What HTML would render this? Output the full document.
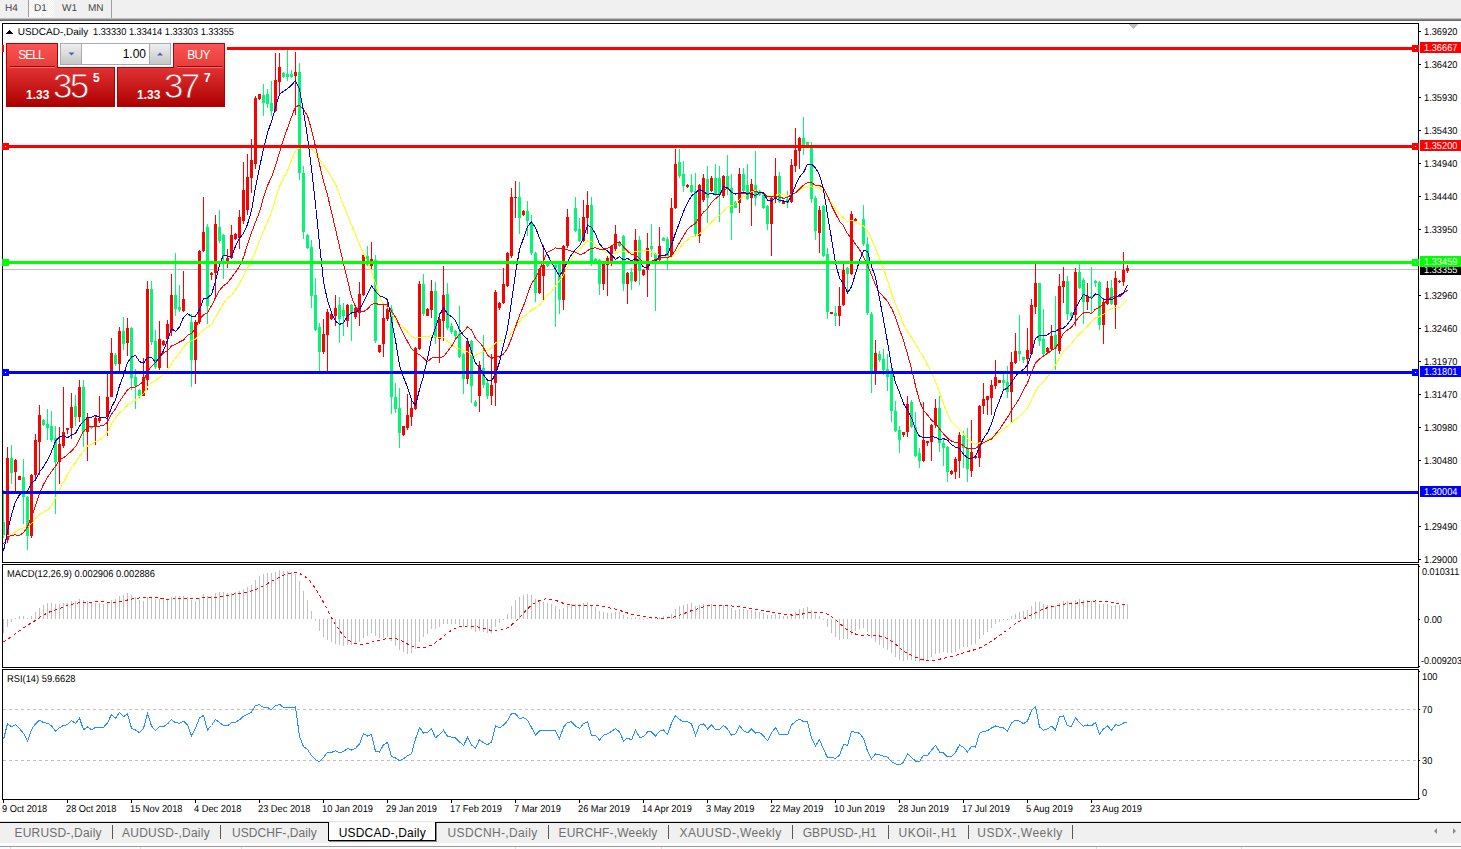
<!DOCTYPE html>
<html><head><meta charset="utf-8"><title>USDCAD-,Daily</title>
<style>
html,body{margin:0;padding:0;background:#fff;}
body{width:1461px;height:849px;position:relative;overflow:hidden;font-family:"Liberation Sans",sans-serif;}
.t{font-family:"Liberation Sans",sans-serif;font-size:10px;text-rendering:geometricPrecision;}
#chart{position:absolute;left:0;top:0;}
#top{position:absolute;left:0;top:0;width:1461px;height:18px;background:#f0f0f0;}
#top .l1{position:absolute;left:0;top:18px;width:100%;height:1px;background:#bdbdbd}
#top .l2{position:absolute;left:0;top:19px;width:100%;height:1px;background:#858585}
#top .l3{position:absolute;left:0;top:20px;width:100%;height:1px;background:#696969}
#top span{position:absolute;top:3px;font-size:10px;line-height:12px;color:#444;text-rendering:geometricPrecision;}
#top .sep{position:absolute;top:0;width:1px;height:17px;background:#a0a0a0}
#top .sel{position:absolute;left:29px;top:0;width:25px;height:17px;background-color:#f0f0f0;background-image:conic-gradient(#fff 25%,#f0f0f0 0 50%,#fff 0 75%,#f0f0f0 0);background-size:2px 2px}
#tp{position:absolute;left:4px;top:40px;width:223px;height:69px;background:#fff;}
.rb{position:absolute;box-sizing:border-box;border:1px solid #b20000;}
.btn{background:linear-gradient(#fb5353,#e53b3b);color:#fff;font-size:12px;text-align:center;line-height:23px;box-sizing:border-box}
.big{background:linear-gradient(#e03232,#ae0000);color:#fff;}
.big span{position:absolute;color:#fff;}
#tabs{position:absolute;left:0;top:820px;width:1461px;height:29px;background:#f0f0f0;}
#tabs span{position:absolute;top:6px;font-size:12px;line-height:14px;color:#6e6e6e;white-space:nowrap}
#tabs i{position:absolute;top:5px;width:1px;height:14px;background:#555;}
</style></head><body>
<svg id="chart" width="1461" height="849" viewBox="0 0 1461 849" shape-rendering="crispEdges">
<defs><clipPath id="cm"><rect x="3" y="24" width="1415" height="538"/></clipPath></defs>
<rect x="3" y="269" width="1415" height="1" fill="#c0c0c0"/>
<path d="M3 490h1v48h-1zM3 522h2v14h-2zM11 445h1v39h-1zM10 458h3v15h-3zM23 459h1v65h-1zM22 477h3v20h-3zM27 496h1v54h-1zM26 497h3v39h-3zM43 419h1v7h-1zM42 420h3v5h-3zM47 409h1v31h-1zM46 424h3v4h-3zM51 411h1v31h-1zM50 426h3v14h-3zM55 426h1v88h-1zM54 438h3v24h-3zM75 395h1v31h-1zM74 406h3v11h-3zM83 380h1v67h-1zM82 387h3v45h-3zM91 426h1v3h-1zM90 426h3v2h-3zM115 353h1v13h-1zM114 355h3v9h-3zM123 317h1v33h-1zM122 331h3v13h-3zM131 327h1v63h-1zM130 328h3v50h-3zM135 369h1v40h-1zM134 377h3v9h-3zM139 389h1v9h-1zM138 390h3v6h-3zM151 281h1v64h-1zM150 289h3v53h-3zM155 330h1v39h-1zM154 341h3v26h-3zM175 253h1v63h-1zM174 295h3v14h-3zM179 285h1v27h-1zM178 307h3v3h-3zM191 314h1v73h-1zM190 322h3v38h-3zM207 224h1v100h-1zM206 227h3v79h-3zM219 210h1v33h-1zM218 227h3v14h-3zM223 234h1v45h-1zM222 235h3v21h-3zM263 84h1v32h-1zM262 95h3v8h-3zM267 89h1v19h-1zM266 94h3v10h-3zM271 81h1v35h-1zM270 103h3v8h-3zM283 72h1v6h-1zM282 73h3v4h-3zM287 50h1v31h-1zM286 74h3v3h-3zM291 70h1v8h-1zM290 74h3v3h-3zM299 63h1v117h-1zM298 72h3v101h-3zM303 166h1v73h-1zM302 173h3v59h-3zM307 234h1v15h-1zM306 235h3v13h-3zM311 240h1v68h-1zM310 247h3v49h-3zM315 278h1v53h-1zM314 295h3v35h-3zM319 323h1v48h-1zM318 327h3v25h-3zM339 297h1v46h-1zM338 305h3v14h-3zM343 303h1v33h-1zM342 310h3v6h-3zM351 304h1v37h-1zM350 305h3v8h-3zM367 246h1v20h-1zM366 256h3v9h-3zM375 255h1v88h-1zM374 260h3v81h-3zM391 305h1v109h-1zM390 309h3v88h-3zM395 383h1v30h-1zM394 397h3v12h-3zM399 388h1v60h-1zM398 408h3v25h-3zM423 274h1v42h-1zM422 284h3v30h-3zM435 282h1v62h-1zM434 291h3v47h-3zM447 283h1v47h-1zM446 294h3v34h-3zM451 323h1v11h-1zM450 326h3v6h-3zM455 330h1v9h-1zM454 331h3v5h-3zM459 306h1v52h-1zM458 334h3v23h-3zM463 353h1v41h-1zM462 354h3v25h-3zM471 340h1v63h-1zM470 341h3v45h-3zM475 400h1v7h-1zM474 402h3v4h-3zM483 335h1v53h-1zM482 368h3v17h-3zM487 379h1v20h-1zM486 383h3v13h-3zM519 182h1v52h-1zM518 197h3v21h-3zM527 201h1v35h-1zM526 211h3v10h-3zM531 215h1v40h-1zM530 222h3v31h-3zM535 252h1v50h-1zM534 253h3v40h-3zM547 262h1v5h-1zM546 263h3v3h-3zM555 264h1v63h-1zM554 265h3v3h-3zM559 262h1v52h-1zM558 263h3v37h-3zM575 197h1v35h-1zM574 208h3v23h-3zM579 218h1v24h-1zM578 229h3v12h-3zM591 197h1v69h-1zM590 205h3v58h-3zM595 258h1v5h-1zM594 259h3v3h-3zM599 259h1v36h-1zM598 260h3v24h-3zM619 242h1v5h-1zM618 243h3v3h-3zM623 235h1v56h-1zM622 236h3v48h-3zM631 268h1v22h-1zM630 272h3v9h-3zM639 236h1v49h-1zM638 240h3v31h-3zM651 224h1v33h-1zM650 246h3v3h-3zM655 253h1v58h-1zM654 254h3v10h-3zM663 237h1v4h-1zM662 238h3v3h-3zM667 237h1v33h-1zM666 239h3v18h-3zM679 149h1v29h-1zM678 162h3v14h-3zM683 161h1v31h-1zM682 174h3v12h-3zM691 174h1v19h-1zM690 185h3v7h-3zM695 173h1v63h-1zM694 191h3v43h-3zM707 166h1v57h-1zM706 179h3v19h-3zM715 164h1v32h-1zM714 178h3v17h-3zM719 166h1v56h-1zM718 178h3v17h-3zM727 155h1v40h-1zM726 176h3v13h-3zM731 174h1v66h-1zM730 188h3v25h-3zM735 201h1v7h-1zM734 202h3v6h-3zM743 168h1v24h-1zM742 174h3v17h-3zM747 164h1v36h-1zM746 185h3v14h-3zM755 151h1v55h-1zM754 185h3v13h-3zM759 190h1v6h-1zM758 191h3v4h-3zM763 193h1v16h-1zM762 195h3v13h-3zM767 205h1v25h-1zM766 206h3v18h-3zM779 172h1v31h-1zM778 176h3v26h-3zM787 191h1v17h-1zM786 199h3v4h-3zM803 117h1v38h-1zM802 138h3v7h-3zM807 142h1v4h-1zM806 142h3v3h-3zM811 142h1v61h-1zM810 147h3v52h-3zM815 196h1v44h-1zM814 198h3v33h-3zM823 205h1v52h-1zM822 206h3v50h-3zM827 248h1v71h-1zM826 254h3v58h-3zM835 306h1v20h-1zM834 313h3v3h-3zM847 267h1v25h-1zM846 268h3v6h-3zM863 205h1v41h-1zM862 219h3v25h-3zM867 237h1v78h-1zM866 244h3v69h-3zM871 312h1v81h-1zM870 314h3v59h-3zM879 351h1v11h-1zM878 354h3v6h-3zM883 349h1v26h-1zM882 359h3v11h-3zM887 354h1v37h-1zM886 369h3v8h-3zM891 368h1v54h-1zM890 374h3v37h-3zM895 401h1v31h-1zM894 411h3v20h-3zM899 426h1v27h-1zM898 430h3v10h-3zM911 400h1v28h-1zM910 402h3v25h-3zM915 412h1v45h-1zM914 427h3v29h-3zM919 448h1v20h-1zM918 453h3v8h-3zM939 396h1v56h-1zM938 408h3v35h-3zM943 438h1v28h-1zM942 443h3v5h-3zM947 446h1v36h-1zM946 447h3v25h-3zM963 431h1v37h-1zM962 436h3v12h-3zM967 428h1v54h-1zM966 448h3v21h-3zM1003 374h1v16h-1zM1002 380h3v3h-3zM1007 366h1v32h-1zM1006 382h3v10h-3zM1019 315h1v46h-1zM1018 351h3v3h-3zM1023 357h1v6h-1zM1022 357h3v3h-3zM1039 283h1v63h-1zM1038 283h3v58h-3zM1043 309h1v47h-1zM1042 339h3v15h-3zM1055 296h1v74h-1zM1054 335h3v14h-3zM1067 276h1v44h-1zM1066 281h3v33h-3zM1071 312h1v5h-1zM1070 313h3v3h-3zM1079 263h1v26h-1zM1078 272h3v16h-3zM1083 278h1v46h-1zM1082 280h3v22h-3zM1091 267h1v47h-1zM1090 296h3v2h-3zM1095 280h1v7h-1zM1094 281h3v2h-3zM1099 281h1v49h-1zM1098 282h3v43h-3zM1111 280h1v25h-1zM1110 288h3v16h-3z" fill="#00f873"/>
<path d="M7 447h1v96h-1zM6 458h3v82h-3zM15 459h1v33h-1zM14 460h3v12h-3zM19 476h1v4h-1zM18 476h3v4h-3zM31 474h1v64h-1zM30 475h3v61h-3zM35 434h1v45h-1zM34 440h3v35h-3zM39 405h1v70h-1zM38 415h3v27h-3zM59 427h1v57h-1zM58 444h3v18h-3zM63 387h1v61h-1zM62 432h3v14h-3zM67 428h1v6h-1zM66 428h3v2h-3zM71 393h1v46h-1zM70 407h3v21h-3zM79 380h1v42h-1zM78 387h3v30h-3zM87 413h1v48h-1zM86 417h3v15h-3zM95 416h1v29h-1zM94 418h3v8h-3zM99 396h1v27h-1zM98 418h3v3h-3zM107 373h1v63h-1zM106 397h3v20h-3zM111 338h1v59h-1zM110 353h3v44h-3zM119 327h1v44h-1zM118 331h3v33h-3zM127 318h1v38h-1zM126 328h3v15h-3zM143 358h1v38h-1zM142 377h3v19h-3zM147 281h1v109h-1zM146 289h3v91h-3zM159 321h1v49h-1zM158 339h3v29h-3zM163 340h1v6h-1zM162 341h3v4h-3zM167 320h1v48h-1zM166 324h3v15h-3zM171 274h1v62h-1zM170 295h3v36h-3zM183 271h1v41h-1zM182 299h3v12h-3zM195 320h1v64h-1zM194 322h3v38h-3zM199 250h1v74h-1zM198 251h3v71h-3zM203 197h1v55h-1zM202 232h3v19h-3zM211 272h1v8h-1zM210 273h3v2h-3zM215 215h1v82h-1zM214 224h3v49h-3zM227 249h1v19h-1zM226 258h3v3h-3zM231 225h1v34h-1zM230 235h3v23h-3zM235 233h1v7h-1zM234 234h3v5h-3zM239 210h1v39h-1zM238 217h3v21h-3zM243 162h1v62h-1zM242 190h3v31h-3zM247 154h1v61h-1zM246 177h3v33h-3zM251 139h1v54h-1zM250 160h3v18h-3zM255 96h1v73h-1zM254 98h3v66h-3zM259 94h1v6h-1zM258 94h3v5h-3zM275 53h1v59h-1zM274 80h3v31h-3zM279 53h1v43h-1zM278 67h3v15h-3zM295 52h1v63h-1zM294 72h3v4h-3zM323 319h1v35h-1zM322 334h3v18h-3zM327 309h1v62h-1zM326 312h3v23h-3zM331 313h1v7h-1zM330 314h3v5h-3zM335 295h1v31h-1zM334 308h3v8h-3zM347 304h1v23h-1zM346 305h3v16h-3zM355 305h1v14h-1zM354 308h3v9h-3zM359 282h1v44h-1zM358 294h3v19h-3zM363 255h1v41h-1zM362 255h3v40h-3zM371 242h1v27h-1zM370 259h3v7h-3zM379 345h1v8h-1zM378 345h3v7h-3zM383 304h1v53h-1zM382 318h3v26h-3zM387 301h1v20h-1zM386 309h3v10h-3zM403 426h1v10h-1zM402 426h3v9h-3zM407 394h1v36h-1zM406 415h3v13h-3zM411 400h1v26h-1zM410 408h3v9h-3zM415 347h1v63h-1zM414 348h3v61h-3zM419 281h1v69h-1zM418 284h3v65h-3zM427 308h1v8h-1zM426 309h3v7h-3zM431 280h1v38h-1zM430 291h3v19h-3zM439 313h1v50h-1zM438 319h3v20h-3zM443 266h1v75h-1zM442 295h3v26h-3zM467 340h1v44h-1zM466 341h3v38h-3zM479 361h1v51h-1zM478 365h3v31h-3zM491 354h1v51h-1zM490 385h3v11h-3zM495 290h1v116h-1zM494 292h3v91h-3zM499 302h1v8h-1zM498 303h3v5h-3zM503 268h1v36h-1zM502 284h3v19h-3zM507 252h1v35h-1zM506 253h3v33h-3zM511 188h1v70h-1zM510 197h3v59h-3zM515 181h1v37h-1zM514 197h3v1h-3zM523 210h1v6h-1zM522 211h3v4h-3zM539 268h1v26h-1zM538 269h3v24h-3zM543 245h1v55h-1zM542 265h3v11h-3zM563 245h1v65h-1zM562 246h3v54h-3zM567 209h1v39h-1zM566 217h3v29h-3zM583 200h1v42h-1zM582 217h3v24h-3zM587 191h1v43h-1zM586 205h3v13h-3zM603 262h1v28h-1zM602 263h3v21h-3zM607 256h1v40h-1zM606 258h3v7h-3zM611 245h1v21h-1zM610 246h3v16h-3zM615 225h1v26h-1zM614 234h3v15h-3zM627 272h1v32h-1zM626 273h3v11h-3zM635 229h1v53h-1zM634 240h3v41h-3zM643 269h1v7h-1zM642 270h3v5h-3zM647 233h1v64h-1zM646 248h3v22h-3zM659 227h1v34h-1zM658 246h3v14h-3zM671 198h1v60h-1zM670 208h3v49h-3zM675 149h1v60h-1zM674 164h3v44h-3zM687 184h1v4h-1zM686 185h3v2h-3zM699 184h1v59h-1zM698 185h3v51h-3zM703 174h1v28h-1zM702 178h3v22h-3zM711 176h1v16h-1zM710 178h3v13h-3zM723 175h1v23h-1zM722 176h3v20h-3zM739 168h1v45h-1zM738 174h3v29h-3zM751 179h1v47h-1zM750 184h3v14h-3zM771 196h1v60h-1zM770 198h3v26h-3zM775 158h1v45h-1zM774 176h3v23h-3zM783 200h1v4h-1zM782 201h3v3h-3zM791 159h1v44h-1zM790 165h3v37h-3zM795 128h1v44h-1zM794 150h3v16h-3zM799 137h1v32h-1zM798 138h3v13h-3zM819 206h1v47h-1zM818 210h3v23h-3zM831 312h1v2h-1zM830 312h3v2h-3zM839 287h1v39h-1zM838 306h3v10h-3zM843 264h1v42h-1zM842 270h3v35h-3zM851 211h1v64h-1zM850 214h3v60h-3zM855 218h1v4h-1zM854 219h3v2h-3zM875 340h1v45h-1zM874 353h3v19h-3zM903 432h1v5h-1zM902 432h3v3h-3zM907 396h1v41h-1zM906 404h3v28h-3zM923 402h1v60h-1zM922 440h3v21h-3zM927 441h1v5h-1zM926 441h3v2h-3zM931 424h1v37h-1zM930 425h3v17h-3zM935 399h1v29h-1zM934 408h3v17h-3zM951 470h1v5h-1zM950 471h3v3h-3zM955 457h1v22h-1zM954 459h3v13h-3zM959 432h1v46h-1zM958 435h3v26h-3zM971 420h1v57h-1zM970 452h3v19h-3zM975 455h1v4h-1zM974 456h3v2h-3zM979 405h1v62h-1zM978 406h3v52h-3zM983 383h1v31h-1zM982 399h3v7h-3zM987 396h1v19h-1zM986 396h3v4h-3zM991 380h1v35h-1zM990 385h3v13h-3zM995 360h1v29h-1zM994 377h3v9h-3zM999 380h1v3h-1zM998 380h3v3h-3zM1011 352h1v70h-1zM1010 362h3v30h-3zM1015 333h1v31h-1zM1014 351h3v12h-3zM1027 328h1v48h-1zM1026 350h3v9h-3zM1031 299h1v56h-1zM1030 305h3v49h-3zM1035 263h1v51h-1zM1034 283h3v24h-3zM1047 347h1v6h-1zM1046 348h3v4h-3zM1051 325h1v25h-1zM1050 336h3v13h-3zM1059 274h1v80h-1zM1058 286h3v65h-3zM1063 267h1v36h-1zM1062 281h3v6h-3zM1075 268h1v58h-1zM1074 272h3v43h-3zM1087 283h1v27h-1zM1086 296h3v6h-3zM1103 298h1v46h-1zM1102 302h3v23h-3zM1107 281h1v24h-1zM1106 288h3v16h-3zM1115 271h1v58h-1zM1114 278h3v27h-3zM1119 280h1v3h-1zM1118 281h3v1h-3zM1123 252h1v34h-1zM1122 270h3v12h-3zM1127 265h1v8h-1zM1126 268h3v3h-3z" fill="#ff0000"/>
<g clip-path="url(#cm)">
<polyline points="3.5,535.1 7.5,535.2 11.5,535.3 15.5,532.1 19.5,529.3 23.5,527.7 27.5,527.2 31.5,523.6 35.5,518.6 39.5,514.1 43.5,512.2 47.5,510.3 51.5,505.7 55.5,498.2 59.5,490.2 63.5,482.4 67.5,474.7 71.5,467.9 75.5,462.7 79.5,456.3 83.5,451.4 87.5,445.7 91.5,444.3 95.5,441.7 99.5,439.7 103.5,436.8 107.5,432.1 111.5,423.4 115.5,418.1 119.5,412.9 123.5,409.5 127.5,404.9 131.5,402.5 135.5,400.0 139.5,396.8 143.5,393.6 147.5,386.8 151.5,382.7 155.5,380.8 159.5,377.1 163.5,374.9 167.5,369.7 171.5,363.9 175.5,358.2 179.5,353.1 183.5,347.5 187.5,342.5 191.5,340.8 195.5,339.3 199.5,333.9 203.5,329.2 207.5,327.4 211.5,324.7 215.5,317.4 219.5,310.5 223.5,303.8 227.5,298.1 231.5,295.6 235.5,290.4 239.5,283.3 243.5,276.2 247.5,268.4 251.5,260.6 255.5,251.2 259.5,241.0 263.5,231.1 267.5,221.8 271.5,212.1 275.5,198.8 279.5,186.6 283.5,178.3 287.5,171.0 291.5,160.1 295.5,150.5 299.5,148.1 303.5,147.7 307.5,147.3 311.5,149.1 315.5,153.6 319.5,159.2 323.5,164.8 327.5,170.6 331.5,177.1 335.5,184.2 339.5,194.7 343.5,205.3 347.5,214.9 351.5,224.9 355.5,234.2 359.5,244.4 363.5,253.4 367.5,262.4 371.5,271.0 375.5,283.6 379.5,296.6 383.5,303.5 387.5,307.2 391.5,314.3 395.5,319.7 399.5,324.6 403.5,328.1 407.5,332.0 411.5,336.6 415.5,338.2 419.5,337.1 423.5,336.8 427.5,336.5 431.5,335.8 435.5,337.0 439.5,337.5 443.5,337.6 447.5,341.1 451.5,344.3 455.5,348.0 459.5,348.7 463.5,350.3 467.5,351.4 471.5,355.1 475.5,355.5 479.5,353.4 483.5,351.1 487.5,349.7 491.5,348.3 495.5,342.7 499.5,340.6 503.5,340.6 507.5,337.7 511.5,332.4 515.5,327.9 519.5,322.2 523.5,317.0 527.5,313.5 531.5,310.0 535.5,308.1 539.5,304.9 543.5,300.5 547.5,295.1 551.5,291.6 555.5,286.0 559.5,280.9 563.5,275.3 567.5,267.2 571.5,258.6 575.5,251.3 579.5,248.9 583.5,244.8 587.5,241.0 591.5,241.5 595.5,244.6 599.5,248.7 603.5,250.9 607.5,253.1 611.5,254.3 615.5,253.4 619.5,251.1 623.5,251.9 627.5,252.3 631.5,253.0 635.5,251.6 639.5,251.8 643.5,250.4 647.5,250.5 651.5,252.0 655.5,254.4 659.5,255.1 663.5,255.1 667.5,257.0 671.5,257.1 675.5,252.3 679.5,248.3 683.5,243.6 687.5,239.9 691.5,236.7 695.5,236.2 699.5,233.9 703.5,230.6 707.5,226.5 711.5,221.9 715.5,217.8 719.5,215.7 723.5,211.2 727.5,207.3 731.5,205.6 735.5,203.7 739.5,199.4 743.5,196.7 747.5,194.7 751.5,191.2 755.5,190.8 759.5,192.3 763.5,193.7 767.5,195.6 771.5,196.2 775.5,195.4 779.5,193.9 783.5,194.6 787.5,195.8 791.5,194.3 795.5,192.9 799.5,190.2 803.5,187.9 807.5,186.4 811.5,186.9 815.5,187.7 819.5,187.9 823.5,191.8 827.5,197.5 831.5,202.9 835.5,209.3 839.5,214.4 843.5,218.0 847.5,221.2 851.5,220.7 855.5,221.7 859.5,223.9 863.5,225.9 867.5,231.2 871.5,239.3 875.5,248.3 879.5,258.3 883.5,269.4 887.5,280.4 891.5,293.1 895.5,304.1 899.5,314.0 903.5,324.6 907.5,331.7 911.5,337.1 915.5,344.0 919.5,350.9 923.5,357.2 927.5,365.4 931.5,372.6 935.5,381.8 939.5,392.5 943.5,403.3 947.5,414.1 951.5,421.6 955.5,425.7 959.5,429.6 963.5,433.8 967.5,438.5 971.5,442.1 975.5,444.2 979.5,443.0 983.5,441.1 987.5,439.4 991.5,438.5 995.5,436.1 999.5,432.5 1003.5,428.8 1007.5,426.5 1011.5,422.8 1015.5,419.3 1019.5,416.7 1023.5,412.7 1027.5,408.0 1031.5,400.1 1035.5,391.2 1039.5,385.5 1043.5,381.7 1047.5,376.9 1051.5,370.6 1055.5,365.6 1059.5,357.5 1063.5,351.6 1067.5,347.5 1071.5,343.7 1075.5,338.3 1079.5,334.1 1083.5,330.3 1087.5,326.2 1091.5,321.7 1095.5,317.9 1099.5,316.7 1103.5,314.2 1107.5,310.8 1111.5,308.6 1115.5,307.3 1119.5,307.2 1123.5,303.8 1127.5,299.7" fill="none" stroke="#ffff00" stroke-width="1"/>
<polyline points="3.5,544.0 7.5,537.9 11.5,535.2 15.5,534.9 19.5,535.5 23.5,532.7 27.5,526.7 31.5,516.9 35.5,505.8 39.5,493.3 43.5,484.3 47.5,477.4 51.5,471.5 55.5,466.3 59.5,459.8 63.5,457.9 67.5,454.7 71.5,450.9 75.5,446.7 79.5,438.8 83.5,431.4 87.5,427.2 91.5,426.4 95.5,426.6 99.5,426.1 103.5,425.3 107.5,422.2 111.5,414.4 115.5,408.7 119.5,401.5 123.5,395.5 127.5,389.8 131.5,387.1 135.5,387.0 139.5,384.5 143.5,381.6 147.5,371.6 151.5,366.2 155.5,362.6 159.5,357.0 163.5,353.0 167.5,350.9 171.5,345.9 175.5,344.4 179.5,342.0 183.5,340.0 187.5,335.3 191.5,333.5 195.5,328.2 199.5,319.2 203.5,315.1 207.5,312.5 211.5,305.8 215.5,297.6 219.5,290.4 223.5,285.6 227.5,283.0 231.5,277.7 235.5,272.2 239.5,266.3 243.5,257.5 247.5,244.4 251.5,232.8 255.5,221.9 259.5,212.1 263.5,197.6 267.5,185.5 271.5,177.4 275.5,165.9 279.5,152.4 283.5,139.4 287.5,128.2 291.5,117.0 295.5,106.6 299.5,105.4 303.5,109.4 307.5,115.7 311.5,129.8 315.5,146.6 319.5,164.4 323.5,180.8 327.5,195.2 331.5,211.9 335.5,229.1 339.5,246.5 343.5,263.5 347.5,279.8 351.5,297.0 355.5,306.6 359.5,311.0 363.5,311.6 367.5,309.3 371.5,304.3 375.5,303.6 379.5,304.4 383.5,304.8 387.5,304.5 391.5,310.9 395.5,317.2 399.5,325.6 403.5,334.2 407.5,341.5 411.5,348.7 415.5,352.6 419.5,354.6 423.5,358.1 427.5,361.7 431.5,358.1 435.5,357.6 439.5,357.6 443.5,356.6 447.5,351.7 451.5,346.3 455.5,339.3 459.5,334.4 463.5,331.8 467.5,327.1 471.5,329.8 475.5,338.5 479.5,342.2 483.5,347.6 487.5,355.1 491.5,358.5 495.5,356.5 499.5,357.1 503.5,353.9 507.5,348.3 511.5,338.3 515.5,326.9 519.5,315.4 523.5,306.1 527.5,294.3 531.5,283.4 535.5,278.2 539.5,270.0 543.5,260.6 547.5,252.1 551.5,250.4 555.5,247.9 559.5,249.0 563.5,248.5 567.5,249.9 571.5,251.2 575.5,252.1 579.5,254.2 583.5,253.9 587.5,250.5 591.5,248.3 595.5,247.8 599.5,249.3 603.5,249.1 607.5,248.3 611.5,246.8 615.5,242.1 619.5,242.0 623.5,246.9 627.5,251.0 631.5,254.6 635.5,254.6 639.5,258.5 643.5,263.1 647.5,262.0 651.5,261.1 655.5,259.6 659.5,258.4 663.5,257.1 667.5,257.9 671.5,256.0 675.5,250.2 679.5,242.5 683.5,236.2 687.5,229.4 691.5,226.0 695.5,223.3 699.5,217.3 703.5,212.2 707.5,208.6 711.5,202.4 715.5,198.8 719.5,195.5 723.5,189.8 727.5,188.4 731.5,192.0 735.5,194.2 739.5,193.3 743.5,193.7 747.5,194.2 751.5,190.5 755.5,191.4 759.5,192.6 763.5,193.3 767.5,196.7 771.5,196.9 775.5,195.6 779.5,197.4 783.5,198.2 787.5,197.5 791.5,194.5 795.5,192.8 799.5,189.0 803.5,185.2 807.5,182.5 811.5,182.6 815.5,185.2 819.5,185.4 823.5,187.6 827.5,195.8 831.5,205.4 835.5,213.6 839.5,221.1 843.5,225.9 847.5,233.7 851.5,238.3 855.5,244.1 859.5,249.5 863.5,256.6 867.5,264.8 871.5,274.9 875.5,285.1 879.5,292.6 883.5,296.8 887.5,301.4 891.5,308.2 895.5,317.1 899.5,329.2 903.5,340.5 907.5,354.0 911.5,368.9 915.5,385.6 919.5,401.1 923.5,410.1 927.5,415.0 931.5,420.1 935.5,423.5 939.5,428.8 943.5,433.9 947.5,438.2 951.5,441.0 955.5,442.4 959.5,442.6 963.5,445.8 967.5,448.8 971.5,448.5 975.5,448.2 979.5,445.8 983.5,442.8 987.5,440.7 991.5,439.1 995.5,434.3 999.5,429.5 1003.5,423.1 1007.5,417.5 1011.5,410.6 1015.5,404.6 1019.5,397.9 1023.5,390.0 1027.5,382.8 1031.5,372.0 1035.5,363.2 1039.5,359.1 1043.5,356.1 1047.5,353.4 1051.5,350.5 1055.5,348.2 1059.5,341.3 1063.5,333.3 1067.5,329.9 1071.5,327.4 1075.5,321.5 1079.5,316.4 1083.5,313.0 1087.5,312.2 1091.5,313.3 1095.5,309.2 1099.5,307.1 1103.5,303.8 1107.5,300.4 1111.5,297.2 1115.5,296.7 1119.5,296.7 1123.5,293.5 1127.5,290.1" fill="none" stroke="#ff0000" stroke-width="1"/>
<polyline points="3.5,551.0 7.5,531.5 11.5,514.7 15.5,501.8 19.5,494.8 23.5,491.3 27.5,491.4 31.5,482.8 35.5,480.1 39.5,471.9 43.5,466.8 47.5,459.9 51.5,451.7 55.5,441.2 59.5,436.8 63.5,435.7 67.5,437.6 71.5,435.0 75.5,433.4 79.5,425.9 83.5,421.5 87.5,417.6 91.5,417.1 95.5,415.6 99.5,417.1 103.5,417.1 107.5,418.6 111.5,407.3 115.5,399.8 119.5,385.9 123.5,375.4 127.5,362.6 131.5,357.0 135.5,355.4 139.5,361.6 143.5,363.4 147.5,357.4 151.5,357.1 155.5,362.6 159.5,357.0 163.5,350.6 167.5,340.2 171.5,328.5 175.5,331.5 179.5,326.9 183.5,317.3 187.5,313.6 191.5,316.4 195.5,316.1 199.5,309.8 203.5,298.8 207.5,298.1 211.5,294.3 215.5,281.6 219.5,264.5 223.5,255.1 227.5,256.1 231.5,256.6 235.5,246.3 239.5,238.2 243.5,233.4 247.5,224.3 251.5,210.6 255.5,187.7 259.5,167.6 263.5,148.9 267.5,132.7 271.5,121.4 275.5,107.5 279.5,94.2 283.5,91.2 287.5,88.7 291.5,85.0 295.5,80.6 299.5,89.4 303.5,111.2 307.5,137.1 311.5,168.4 315.5,204.5 319.5,243.8 323.5,281.1 327.5,300.9 331.5,312.6 335.5,321.2 339.5,324.5 343.5,322.6 347.5,315.9 351.5,312.9 355.5,312.4 359.5,309.4 363.5,301.9 367.5,294.2 371.5,286.0 375.5,291.2 379.5,295.8 383.5,297.3 387.5,299.5 391.5,319.8 395.5,340.3 399.5,365.2 403.5,377.3 407.5,387.3 411.5,400.0 415.5,405.6 419.5,389.5 423.5,376.0 427.5,358.2 431.5,339.0 435.5,327.8 439.5,315.3 443.5,307.7 447.5,314.0 451.5,316.6 455.5,320.5 459.5,329.9 463.5,335.8 467.5,339.0 471.5,352.0 475.5,363.1 479.5,367.7 483.5,374.7 487.5,380.3 491.5,381.1 495.5,374.0 499.5,362.1 503.5,344.8 507.5,328.8 511.5,301.9 515.5,273.5 519.5,249.7 523.5,238.2 527.5,226.5 531.5,222.0 535.5,227.7 539.5,238.0 543.5,247.7 547.5,254.5 551.5,262.7 555.5,269.3 559.5,276.0 563.5,269.3 567.5,261.8 571.5,254.7 575.5,249.7 579.5,245.8 583.5,238.5 587.5,225.0 591.5,227.4 595.5,233.9 599.5,243.8 603.5,248.5 607.5,250.9 611.5,255.1 615.5,259.2 619.5,256.7 623.5,259.9 627.5,258.3 631.5,260.8 635.5,258.3 639.5,261.8 643.5,267.0 647.5,267.3 651.5,262.3 655.5,261.0 659.5,255.9 663.5,256.0 667.5,254.0 671.5,245.1 675.5,233.0 679.5,222.6 683.5,211.5 687.5,202.9 691.5,195.9 695.5,192.7 699.5,189.5 703.5,191.5 707.5,194.5 711.5,193.3 715.5,194.7 719.5,195.1 723.5,186.8 727.5,187.4 731.5,192.4 735.5,193.8 739.5,193.2 743.5,192.6 747.5,193.2 751.5,194.2 755.5,195.5 759.5,192.9 763.5,192.9 767.5,200.1 771.5,201.1 775.5,197.9 779.5,200.5 783.5,201.0 787.5,202.2 791.5,196.1 795.5,185.4 799.5,176.9 803.5,172.5 807.5,164.4 811.5,164.1 815.5,168.1 819.5,174.6 823.5,189.7 827.5,214.6 831.5,238.4 835.5,262.8 839.5,278.2 843.5,283.6 847.5,292.7 851.5,286.9 855.5,273.6 859.5,260.7 863.5,250.4 867.5,251.4 871.5,266.2 875.5,277.5 879.5,298.3 883.5,320.0 887.5,342.1 891.5,365.9 895.5,382.7 899.5,392.3 903.5,403.6 907.5,409.8 911.5,417.9 915.5,429.2 919.5,436.3 923.5,437.5 927.5,437.7 931.5,436.7 935.5,437.3 939.5,439.6 943.5,438.6 947.5,440.1 951.5,444.6 955.5,447.1 959.5,448.6 963.5,454.3 967.5,458.0 971.5,458.5 975.5,456.2 979.5,447.0 983.5,438.4 987.5,432.9 991.5,423.9 995.5,410.7 999.5,400.5 1003.5,390.0 1007.5,388.0 1011.5,382.8 1015.5,376.3 1019.5,371.8 1023.5,369.4 1027.5,365.1 1031.5,354.0 1035.5,338.5 1039.5,335.4 1043.5,335.8 1047.5,334.9 1051.5,331.6 1055.5,331.4 1059.5,328.6 1063.5,328.2 1067.5,324.3 1071.5,318.9 1075.5,308.1 1079.5,301.2 1083.5,294.5 1087.5,295.9 1091.5,298.4 1095.5,294.0 1099.5,295.3 1103.5,299.6 1107.5,299.6 1111.5,299.9 1115.5,297.4 1119.5,295.0 1123.5,293.0 1127.5,284.8" fill="none" stroke="#0000d0" stroke-width="1"/>
</g>
<rect x="1419" y="31" width="2" height="1" fill="#000"/>
<g transform="translate(1424,35) scale(0.925,1)"><text class="t">1.36920</text></g>
<rect x="1419" y="64" width="2" height="1" fill="#000"/>
<g transform="translate(1424,68) scale(0.925,1)"><text class="t">1.36420</text></g>
<rect x="1419" y="97" width="2" height="1" fill="#000"/>
<g transform="translate(1424,101) scale(0.925,1)"><text class="t">1.35930</text></g>
<rect x="1419" y="130" width="2" height="1" fill="#000"/>
<g transform="translate(1424,134) scale(0.925,1)"><text class="t">1.35430</text></g>
<rect x="1419" y="163" width="2" height="1" fill="#000"/>
<g transform="translate(1424,167) scale(0.925,1)"><text class="t">1.34940</text></g>
<rect x="1419" y="196" width="2" height="1" fill="#000"/>
<g transform="translate(1424,200) scale(0.925,1)"><text class="t">1.34440</text></g>
<rect x="1419" y="229" width="2" height="1" fill="#000"/>
<g transform="translate(1424,233) scale(0.925,1)"><text class="t">1.33950</text></g>
<rect x="1419" y="295" width="2" height="1" fill="#000"/>
<g transform="translate(1424,299) scale(0.925,1)"><text class="t">1.32960</text></g>
<rect x="1419" y="328" width="2" height="1" fill="#000"/>
<g transform="translate(1424,332) scale(0.925,1)"><text class="t">1.32460</text></g>
<rect x="1419" y="361" width="2" height="1" fill="#000"/>
<g transform="translate(1424,365) scale(0.925,1)"><text class="t">1.31970</text></g>
<rect x="1419" y="394" width="2" height="1" fill="#000"/>
<g transform="translate(1424,398) scale(0.925,1)"><text class="t">1.31470</text></g>
<rect x="1419" y="427" width="2" height="1" fill="#000"/>
<g transform="translate(1424,431) scale(0.925,1)"><text class="t">1.30980</text></g>
<rect x="1419" y="460" width="2" height="1" fill="#000"/>
<g transform="translate(1424,464) scale(0.925,1)"><text class="t">1.30480</text></g>
<rect x="1419" y="526" width="2" height="1" fill="#000"/>
<g transform="translate(1424,530) scale(0.925,1)"><text class="t">1.29490</text></g>
<rect x="1419" y="559" width="2" height="1" fill="#000"/>
<g transform="translate(1424,563) scale(0.925,1)"><text class="t">1.29000</text></g>
<rect x="2" y="23" width="1417" height="1" fill="#000"/>
<rect x="2" y="23" width="1" height="777" fill="#000"/>
<rect x="1418" y="23" width="1" height="777" fill="#000"/>
<rect x="2" y="562" width="1417" height="1" fill="#000"/>
<rect x="2" y="564" width="1417" height="1" fill="#000"/>
<rect x="2" y="667" width="1417" height="1" fill="#000"/>
<rect x="2" y="669" width="1417" height="1" fill="#000"/>
<rect x="2" y="799" width="1417" height="1" fill="#000"/>
<rect x="0" y="563" width="1461" height="1" fill="#fff"/>
<rect x="0" y="668" width="1461" height="1" fill="#fff"/>
<path d="M1129 24h9l-4.5 5z" fill="#c0c0c0"/>
<rect x="1420" y="263" width="41" height="12" fill="#000"/>
<g transform="translate(1424,273) scale(0.925,1)"><text class="t" fill="#fff">1.33355</text></g>
<rect x="3" y="47" width="1415" height="3" fill="#ff0000"/>
<rect x="2" y="45" width="7" height="7" fill="#ff0000"/>
<rect x="5" y="48" width="1" height="1" fill="#fff"/>
<rect x="1412" y="45" width="7" height="7" fill="#ff0000"/>
<rect x="1415" y="48" width="1" height="1" fill="#fff"/>
<rect x="1420" y="42" width="41" height="11" fill="#ff0000"/>
<g transform="translate(1424,51) scale(0.925,1)"><text class="t" fill="#fff">1.36667</text></g>
<rect x="3" y="145" width="1415" height="3" fill="#ff0000"/>
<rect x="2" y="143" width="7" height="7" fill="#ff0000"/>
<rect x="5" y="146" width="1" height="1" fill="#fff"/>
<rect x="1412" y="143" width="7" height="7" fill="#ff0000"/>
<rect x="1415" y="146" width="1" height="1" fill="#fff"/>
<rect x="1420" y="140" width="41" height="11" fill="#ff0000"/>
<g transform="translate(1424,149) scale(0.925,1)"><text class="t" fill="#fff">1.35200</text></g>
<rect x="3" y="261" width="1415" height="3" fill="#00ff00"/>
<rect x="2" y="259" width="7" height="7" fill="#00ff00"/>
<rect x="5" y="262" width="1" height="1" fill="#fff"/>
<rect x="1412" y="259" width="7" height="7" fill="#00ff00"/>
<rect x="1415" y="262" width="1" height="1" fill="#fff"/>
<rect x="1420" y="256" width="41" height="11" fill="#00ff00"/>
<g transform="translate(1424,265) scale(0.925,1)"><text class="t" fill="#fff">1.33459</text></g>
<rect x="3" y="371" width="1415" height="3" fill="#0000ff"/>
<rect x="2" y="369" width="7" height="7" fill="#0000ff"/>
<rect x="5" y="372" width="1" height="1" fill="#fff"/>
<rect x="1412" y="369" width="7" height="7" fill="#0000ff"/>
<rect x="1415" y="372" width="1" height="1" fill="#fff"/>
<rect x="1420" y="366" width="41" height="11" fill="#0000ff"/>
<g transform="translate(1424,375) scale(0.925,1)"><text class="t" fill="#fff">1.31801</text></g>
<rect x="3" y="491" width="1415" height="3" fill="#0000ff"/>
<rect x="1420" y="486" width="41" height="11" fill="#0000ff"/>
<g transform="translate(1424,495) scale(0.925,1)"><text class="t" fill="#fff">1.30004</text></g>
<path d="M3 619h1v14h-1zM7 619h1v8h-1zM11 619h1v3h-1zM15 618h1v1h-1zM19 616h1v3h-1zM23 616h1v3h-1zM27 618h1v1h-1zM31 616h1v3h-1zM35 612h1v7h-1zM39 608h1v11h-1zM43 605h1v14h-1zM47 603h1v16h-1zM51 603h1v16h-1zM55 604h1v15h-1zM59 604h1v15h-1zM63 603h1v16h-1zM67 603h1v16h-1zM71 601h1v18h-1zM75 601h1v18h-1zM79 599h1v20h-1zM83 600h1v19h-1zM87 601h1v18h-1zM91 602h1v17h-1zM95 603h1v16h-1zM99 603h1v16h-1zM103 604h1v15h-1zM107 603h1v16h-1zM111 600h1v19h-1zM115 599h1v20h-1zM119 596h1v23h-1zM123 595h1v24h-1zM127 593h1v26h-1zM131 595h1v24h-1zM135 597h1v22h-1zM139 600h1v19h-1zM143 601h1v18h-1zM147 597h1v22h-1zM151 597h1v22h-1zM155 599h1v20h-1zM159 599h1v20h-1zM163 599h1v20h-1zM167 599h1v20h-1zM171 597h1v22h-1zM175 596h1v23h-1zM179 596h1v23h-1zM183 596h1v23h-1zM187 597h1v22h-1zM191 600h1v19h-1zM195 601h1v18h-1zM199 598h1v21h-1zM203 594h1v25h-1zM207 596h1v23h-1zM211 596h1v23h-1zM215 593h1v26h-1zM219 592h1v27h-1zM223 592h1v27h-1zM227 593h1v26h-1zM231 593h1v26h-1zM235 592h1v27h-1zM239 591h1v28h-1zM243 589h1v30h-1zM247 587h1v32h-1zM251 585h1v34h-1zM255 580h1v39h-1zM259 576h1v43h-1zM263 574h1v45h-1zM267 573h1v46h-1zM271 573h1v46h-1zM275 572h1v47h-1zM279 570h1v49h-1zM283 571h1v48h-1zM287 571h1v48h-1zM291 572h1v47h-1zM295 574h1v45h-1zM299 581h1v38h-1zM303 591h1v28h-1zM307 600h1v19h-1zM311 611h1v8h-1zM315 619h1v2h-1zM319 619h1v12h-1zM323 619h1v18h-1zM327 619h1v21h-1zM331 619h1v23h-1zM335 619h1v25h-1zM339 619h1v26h-1zM343 619h1v27h-1zM347 619h1v26h-1zM351 619h1v26h-1zM355 619h1v25h-1zM359 619h1v23h-1zM363 619h1v19h-1zM367 619h1v17h-1zM371 619h1v14h-1zM375 619h1v17h-1zM379 619h1v19h-1zM383 619h1v19h-1zM387 619h1v18h-1zM391 619h1v22h-1zM395 619h1v27h-1zM399 619h1v31h-1zM403 619h1v33h-1zM407 619h1v35h-1zM411 619h1v34h-1zM415 619h1v30h-1zM419 619h1v23h-1zM423 619h1v18h-1zM427 619h1v15h-1zM431 619h1v10h-1zM435 619h1v10h-1zM439 619h1v8h-1zM443 619h1v5h-1zM447 619h1v5h-1zM451 619h1v5h-1zM455 619h1v5h-1zM459 619h1v6h-1zM463 619h1v8h-1zM467 619h1v8h-1zM471 619h1v10h-1zM475 619h1v13h-1zM479 619h1v12h-1zM483 619h1v13h-1zM487 619h1v14h-1zM491 619h1v14h-1zM495 619h1v8h-1zM499 619h1v4h-1zM503 619h1v1h-1zM507 614h1v5h-1zM511 606h1v13h-1zM515 600h1v19h-1zM519 597h1v22h-1zM523 595h1v24h-1zM527 594h1v25h-1zM531 595h1v24h-1zM535 599h1v20h-1zM539 601h1v18h-1zM543 602h1v17h-1zM547 603h1v16h-1zM551 604h1v15h-1zM555 606h1v13h-1zM559 609h1v10h-1zM563 608h1v11h-1zM567 606h1v13h-1zM571 604h1v15h-1zM575 604h1v15h-1zM579 604h1v15h-1zM583 603h1v16h-1zM587 602h1v17h-1zM591 605h1v14h-1zM595 607h1v12h-1zM599 611h1v8h-1zM603 612h1v7h-1zM607 613h1v6h-1zM611 613h1v6h-1zM615 612h1v7h-1zM619 612h1v7h-1zM623 615h1v4h-1zM627 617h1v2h-1zM631 618h1v1h-1zM635 617h1v2h-1zM639 618h1v1h-1zM643 619h1v1h-1zM647 618h1v1h-1zM651 617h1v2h-1zM655 618h1v1h-1zM659 617h1v2h-1zM663 616h1v3h-1zM667 617h1v2h-1zM671 614h1v5h-1zM675 609h1v10h-1zM679 606h1v13h-1zM683 605h1v14h-1zM687 604h1v15h-1zM691 603h1v16h-1zM695 606h1v13h-1zM699 605h1v14h-1zM703 604h1v15h-1zM707 605h1v14h-1zM711 604h1v15h-1zM715 605h1v14h-1zM719 606h1v13h-1zM723 605h1v14h-1zM727 606h1v13h-1zM731 608h1v11h-1zM735 610h1v9h-1zM739 609h1v10h-1zM743 609h1v10h-1zM747 610h1v9h-1zM751 610h1v9h-1zM755 611h1v8h-1zM759 612h1v7h-1zM763 613h1v6h-1zM767 615h1v4h-1zM771 615h1v4h-1zM775 614h1v5h-1zM779 615h1v4h-1zM783 616h1v3h-1zM787 616h1v3h-1zM791 614h1v5h-1zM795 612h1v7h-1zM799 609h1v10h-1zM803 608h1v11h-1zM807 607h1v12h-1zM811 610h1v9h-1zM815 614h1v5h-1zM819 616h1v3h-1zM823 619h1v1h-1zM827 619h1v8h-1zM831 619h1v14h-1zM835 619h1v18h-1zM839 619h1v21h-1zM843 619h1v20h-1zM847 619h1v20h-1zM851 619h1v16h-1zM855 619h1v12h-1zM859 619h1v10h-1zM863 619h1v9h-1zM867 619h1v13h-1zM871 619h1v19h-1zM875 619h1v23h-1zM879 619h1v26h-1zM883 619h1v29h-1zM887 619h1v31h-1zM891 619h1v34h-1zM895 619h1v38h-1zM899 619h1v41h-1zM903 619h1v42h-1zM907 619h1v41h-1zM911 619h1v41h-1zM915 619h1v42h-1zM919 619h1v43h-1zM923 619h1v42h-1zM927 619h1v41h-1zM931 619h1v38h-1zM935 619h1v35h-1zM939 619h1v34h-1zM943 619h1v33h-1zM947 619h1v34h-1zM951 619h1v34h-1zM955 619h1v33h-1zM959 619h1v30h-1zM963 619h1v28h-1zM967 619h1v28h-1zM971 619h1v26h-1zM975 619h1v25h-1zM979 619h1v20h-1zM983 619h1v16h-1zM987 619h1v13h-1zM991 619h1v9h-1zM995 619h1v5h-1zM999 619h1v3h-1zM1003 619h1v1h-1zM1007 619h1v1h-1zM1011 616h1v3h-1zM1015 614h1v5h-1zM1019 612h1v7h-1zM1023 611h1v8h-1zM1027 610h1v9h-1zM1031 606h1v13h-1zM1035 602h1v17h-1zM1039 602h1v17h-1zM1043 604h1v15h-1zM1047 605h1v14h-1zM1051 605h1v14h-1zM1055 606h1v13h-1zM1059 603h1v16h-1zM1063 601h1v18h-1zM1067 601h1v18h-1zM1071 602h1v17h-1zM1075 600h1v19h-1zM1079 599h1v20h-1zM1083 600h1v19h-1zM1087 600h1v19h-1zM1091 601h1v18h-1zM1095 601h1v18h-1zM1099 604h1v15h-1zM1103 604h1v15h-1zM1107 604h1v15h-1zM1111 606h1v13h-1zM1115 605h1v14h-1zM1119 605h1v14h-1zM1123 604h1v15h-1zM1127 604h1v15h-1z" fill="#c0c0c0"/>
<polyline points="3.5,641.9 7.5,639.5 11.5,636.7 15.5,633.7 19.5,630.7 23.5,627.7 27.5,625.3 31.5,622.8 35.5,620.3 39.5,617.5 43.5,615.1 47.5,612.9 51.5,611.2 55.5,609.8 59.5,608.5 63.5,606.9 67.5,605.4 71.5,604.2 75.5,603.5 79.5,602.8 83.5,602.5 87.5,602.3 91.5,602.1 95.5,601.9 99.5,601.9 103.5,602.0 107.5,602.3 111.5,602.2 115.5,602.2 119.5,601.7 123.5,601.0 127.5,600.0 131.5,599.1 135.5,598.4 139.5,598.0 143.5,597.8 147.5,597.4 151.5,597.2 155.5,597.6 159.5,598.1 163.5,598.8 167.5,599.2 171.5,599.2 175.5,598.7 179.5,598.2 183.5,598.1 187.5,598.0 191.5,598.2 195.5,598.5 199.5,598.3 203.5,597.7 207.5,597.6 211.5,597.6 215.5,597.2 219.5,596.7 223.5,596.2 227.5,595.4 231.5,594.4 235.5,593.8 239.5,593.5 243.5,592.8 247.5,591.9 251.5,591.0 255.5,589.7 259.5,587.9 263.5,585.8 267.5,583.6 271.5,581.4 275.5,579.2 279.5,577.1 283.5,575.3 287.5,573.8 291.5,572.9 295.5,572.7 299.5,573.5 303.5,575.5 307.5,578.6 311.5,582.9 315.5,588.6 319.5,595.2 323.5,602.5 327.5,610.0 331.5,617.6 335.5,624.6 339.5,630.5 343.5,635.6 347.5,639.4 351.5,642.1 355.5,643.6 359.5,644.2 363.5,644.0 367.5,643.3 371.5,642.1 375.5,641.0 379.5,640.2 383.5,639.4 387.5,638.5 391.5,638.2 395.5,638.5 399.5,639.8 403.5,641.7 407.5,644.0 411.5,645.9 415.5,647.2 419.5,647.6 423.5,647.7 427.5,646.8 431.5,645.0 435.5,642.6 439.5,639.8 443.5,636.5 447.5,633.2 451.5,630.3 455.5,628.3 459.5,626.9 463.5,626.2 467.5,626.0 471.5,626.0 475.5,626.6 479.5,627.4 483.5,628.4 487.5,629.5 491.5,630.5 495.5,630.8 499.5,630.4 503.5,629.5 507.5,627.8 511.5,624.9 515.5,621.5 519.5,617.6 523.5,613.3 527.5,608.8 531.5,605.2 535.5,602.5 539.5,600.5 543.5,599.1 547.5,598.8 551.5,599.3 555.5,600.2 559.5,601.8 563.5,603.4 567.5,604.6 571.5,605.2 575.5,605.5 579.5,605.8 583.5,605.8 587.5,605.5 591.5,605.5 595.5,605.3 599.5,605.6 603.5,606.3 607.5,607.3 611.5,608.3 615.5,609.2 619.5,610.3 623.5,611.7 627.5,613.0 631.5,614.2 635.5,614.9 639.5,615.6 643.5,616.2 647.5,616.8 651.5,617.3 655.5,617.9 659.5,618.2 663.5,618.1 667.5,617.9 671.5,617.6 675.5,616.6 679.5,615.2 683.5,613.8 687.5,612.2 691.5,610.6 695.5,609.4 699.5,608.2 703.5,606.8 707.5,605.8 711.5,605.2 715.5,605.1 719.5,605.2 723.5,605.4 727.5,605.7 731.5,606.0 735.5,606.5 739.5,607.0 743.5,607.5 747.5,608.1 751.5,608.7 755.5,609.3 759.5,610.0 763.5,610.8 767.5,611.6 771.5,612.2 775.5,612.9 779.5,613.5 783.5,614.1 787.5,614.7 791.5,615.0 795.5,615.0 799.5,614.6 803.5,613.8 807.5,612.9 811.5,612.4 815.5,612.2 819.5,612.3 823.5,612.8 827.5,614.3 831.5,616.6 835.5,619.7 839.5,623.2 843.5,626.8 847.5,630.0 851.5,632.3 855.5,634.0 859.5,635.0 863.5,635.1 867.5,635.0 871.5,635.1 875.5,635.4 879.5,636.0 883.5,637.0 887.5,638.7 891.5,641.1 895.5,644.2 899.5,647.7 903.5,650.9 907.5,653.3 911.5,655.3 915.5,657.1 919.5,658.7 923.5,660.0 927.5,660.7 931.5,660.8 935.5,660.1 939.5,659.2 943.5,658.4 947.5,657.6 951.5,656.6 955.5,655.5 959.5,654.1 963.5,652.7 967.5,651.5 971.5,650.5 975.5,649.5 979.5,648.0 983.5,646.0 987.5,643.7 991.5,641.1 995.5,638.4 999.5,635.6 1003.5,632.6 1007.5,629.7 1011.5,626.7 1015.5,623.8 1019.5,621.3 1023.5,619.0 1027.5,616.9 1031.5,614.9 1035.5,612.7 1039.5,610.7 1043.5,609.0 1047.5,607.7 1051.5,606.7 1055.5,606.0 1059.5,605.2 1063.5,604.2 1067.5,603.6 1071.5,603.6 1075.5,603.3 1079.5,602.7 1083.5,602.2 1087.5,601.7 1091.5,601.2 1095.5,601.0 1099.5,601.3 1103.5,601.7 1107.5,602.0 1111.5,602.7 1115.5,603.3 1119.5,603.9 1123.5,604.3 1127.5,604.6" fill="none" stroke="#ff0000" stroke-width="1" stroke-dasharray="3 3"/>
<rect x="1419" y="566" width="1" height="1" fill="#000"/>
<rect x="1419" y="619" width="1" height="1" fill="#000"/>
<rect x="1419" y="666" width="1" height="1" fill="#000"/>
<g transform="translate(1422,575) scale(0.91,1)"><text class="t" fill="#000">0.010311</text></g>
<g transform="translate(1424,623) scale(0.925,1)"><text class="t" fill="#000">0.00</text></g>
<g transform="translate(1421,664) scale(0.91,1)"><text class="t" fill="#000">-0.009203</text></g>
<g transform="translate(7,577) scale(0.934,1)"><text class="t" fill="#000">MACD(12,26,9) 0.002906 0.002886</text></g>
<path d="M3 709.5H1418" stroke="#c0c0c0" stroke-width="1" stroke-dasharray="3 3" fill="none"/>
<path d="M3 760.5H1418" stroke="#c0c0c0" stroke-width="1" stroke-dasharray="3 3" fill="none"/>
<polyline points="3.5,739.5 7.5,723.5 11.5,726.8 15.5,724.6 19.5,728.6 23.5,733.3 27.5,741.2 31.5,729.4 35.5,723.8 39.5,720.3 43.5,722.5 47.5,723.2 51.5,725.9 55.5,731.2 59.5,727.7 63.5,725.4 67.5,724.7 71.5,720.7 75.5,723.5 79.5,718.0 83.5,729.8 87.5,726.9 91.5,729.7 95.5,727.5 99.5,727.4 103.5,727.3 107.5,722.8 111.5,714.4 115.5,718.1 119.5,712.5 123.5,716.8 127.5,714.0 131.5,728.2 135.5,730.0 139.5,732.6 143.5,728.4 147.5,713.7 151.5,725.9 155.5,730.7 159.5,726.3 163.5,726.6 167.5,723.9 171.5,719.5 175.5,722.9 179.5,723.1 183.5,721.2 187.5,724.9 191.5,735.8 195.5,728.4 199.5,717.8 203.5,715.4 207.5,730.0 211.5,725.5 215.5,719.4 219.5,722.6 223.5,725.4 227.5,725.9 231.5,722.5 235.5,722.3 239.5,719.8 243.5,716.1 247.5,714.4 251.5,712.2 255.5,705.3 259.5,704.9 263.5,707.3 267.5,707.5 271.5,709.8 275.5,705.8 279.5,704.3 283.5,707.6 287.5,707.8 291.5,707.7 295.5,707.0 299.5,736.3 303.5,746.8 307.5,749.2 311.5,755.7 315.5,759.6 319.5,761.9 323.5,757.4 327.5,752.1 331.5,752.4 335.5,750.8 339.5,752.6 343.5,751.6 347.5,748.5 351.5,750.0 355.5,748.3 359.5,743.9 363.5,733.6 367.5,736.0 371.5,734.4 375.5,751.5 379.5,752.1 383.5,744.7 387.5,742.4 391.5,756.4 395.5,757.9 399.5,760.8 403.5,758.7 407.5,755.8 411.5,753.6 415.5,738.9 419.5,727.5 423.5,733.1 427.5,732.2 431.5,729.0 435.5,737.8 439.5,734.5 443.5,730.2 447.5,736.4 451.5,737.1 455.5,737.9 459.5,741.8 463.5,745.7 467.5,737.4 471.5,745.0 475.5,748.1 479.5,739.5 483.5,742.8 487.5,744.6 491.5,742.1 495.5,725.7 499.5,727.8 503.5,725.1 507.5,720.7 511.5,713.8 515.5,713.9 519.5,718.6 523.5,717.7 527.5,720.1 531.5,727.4 535.5,735.2 539.5,731.0 543.5,730.2 547.5,730.5 551.5,730.9 555.5,730.8 559.5,738.5 563.5,727.3 567.5,722.2 571.5,721.9 575.5,726.0 579.5,728.5 583.5,723.7 587.5,721.6 591.5,735.6 595.5,735.3 599.5,740.1 603.5,735.2 607.5,733.9 611.5,731.4 615.5,728.5 619.5,731.8 623.5,741.0 627.5,738.1 631.5,739.9 635.5,730.0 639.5,737.2 643.5,736.9 647.5,731.9 651.5,732.0 655.5,736.0 659.5,731.3 663.5,730.0 667.5,734.7 671.5,723.2 675.5,715.5 679.5,719.2 683.5,722.0 687.5,721.8 691.5,723.9 695.5,735.6 699.5,725.1 703.5,723.7 707.5,728.9 711.5,724.9 715.5,729.4 719.5,729.4 723.5,725.3 727.5,728.9 731.5,735.3 735.5,733.9 739.5,725.9 743.5,730.6 747.5,732.8 751.5,729.0 755.5,733.0 759.5,732.3 763.5,736.0 767.5,740.7 771.5,732.8 775.5,727.5 779.5,734.7 783.5,734.5 787.5,735.0 791.5,725.0 795.5,721.5 799.5,719.1 803.5,721.6 807.5,721.6 811.5,738.4 815.5,745.8 819.5,739.9 823.5,749.0 827.5,757.6 831.5,757.6 835.5,758.3 839.5,755.1 843.5,744.6 847.5,745.4 851.5,731.5 855.5,732.4 859.5,733.2 863.5,738.4 867.5,751.0 871.5,758.8 875.5,753.9 879.5,754.9 883.5,756.2 887.5,757.1 891.5,761.5 895.5,763.8 899.5,764.8 903.5,762.5 907.5,753.8 911.5,757.3 915.5,761.1 919.5,761.8 923.5,755.2 927.5,755.5 931.5,750.3 935.5,745.4 939.5,752.0 943.5,752.9 947.5,756.8 951.5,756.4 955.5,752.6 959.5,744.7 963.5,747.6 967.5,751.9 971.5,746.3 975.5,747.1 979.5,733.2 983.5,731.4 987.5,730.8 991.5,728.0 995.5,726.0 999.5,727.1 1003.5,728.0 1007.5,731.3 1011.5,722.9 1015.5,720.1 1019.5,721.2 1023.5,723.7 1027.5,720.9 1031.5,710.7 1035.5,706.7 1039.5,726.9 1043.5,730.3 1047.5,728.9 1051.5,726.2 1055.5,730.0 1059.5,716.8 1063.5,716.0 1067.5,725.8 1071.5,726.4 1075.5,717.9 1079.5,722.5 1083.5,726.3 1087.5,725.0 1091.5,725.7 1095.5,722.4 1099.5,734.4 1103.5,728.9 1107.5,726.0 1111.5,730.4 1115.5,724.7 1119.5,725.5 1123.5,723.0 1127.5,722.6" fill="none" stroke="#1e90ff" stroke-width="1"/>
<rect x="1419" y="671" width="1" height="1" fill="#000"/>
<rect x="1419" y="709" width="1" height="1" fill="#000"/>
<rect x="1419" y="760" width="1" height="1" fill="#000"/>
<rect x="1419" y="798" width="1" height="1" fill="#000"/>
<g transform="translate(1422,680) scale(0.925,1)"><text class="t" fill="#000">100</text></g>
<g transform="translate(1422,713) scale(0.925,1)"><text class="t" fill="#000">70</text></g>
<g transform="translate(1422,764) scale(0.925,1)"><text class="t" fill="#000">30</text></g>
<g transform="translate(1422,796) scale(0.925,1)"><text class="t" fill="#000">0</text></g>
<g transform="translate(7,682) scale(0.934,1)"><text class="t" fill="#000">RSI(14) 59.6628</text></g>
<rect x="3" y="800" width="1" height="3" fill="#000"/>
<g transform="translate(2,812) scale(0.925,1)"><text class="t" fill="#000">9 Oct 2018</text></g>
<rect x="67" y="800" width="1" height="3" fill="#000"/>
<g transform="translate(66,812) scale(0.925,1)"><text class="t" fill="#000">28 Oct 2018</text></g>
<rect x="131" y="800" width="1" height="3" fill="#000"/>
<g transform="translate(130,812) scale(0.925,1)"><text class="t" fill="#000">15 Nov 2018</text></g>
<rect x="195" y="800" width="1" height="3" fill="#000"/>
<g transform="translate(194,812) scale(0.925,1)"><text class="t" fill="#000">4 Dec 2018</text></g>
<rect x="259" y="800" width="1" height="3" fill="#000"/>
<g transform="translate(258,812) scale(0.925,1)"><text class="t" fill="#000">23 Dec 2018</text></g>
<rect x="323" y="800" width="1" height="3" fill="#000"/>
<g transform="translate(322,812) scale(0.925,1)"><text class="t" fill="#000">10 Jan 2019</text></g>
<rect x="387" y="800" width="1" height="3" fill="#000"/>
<g transform="translate(386,812) scale(0.925,1)"><text class="t" fill="#000">29 Jan 2019</text></g>
<rect x="451" y="800" width="1" height="3" fill="#000"/>
<g transform="translate(450,812) scale(0.925,1)"><text class="t" fill="#000">17 Feb 2019</text></g>
<rect x="515" y="800" width="1" height="3" fill="#000"/>
<g transform="translate(514,812) scale(0.925,1)"><text class="t" fill="#000">7 Mar 2019</text></g>
<rect x="579" y="800" width="1" height="3" fill="#000"/>
<g transform="translate(578,812) scale(0.925,1)"><text class="t" fill="#000">26 Mar 2019</text></g>
<rect x="643" y="800" width="1" height="3" fill="#000"/>
<g transform="translate(642,812) scale(0.925,1)"><text class="t" fill="#000">14 Apr 2019</text></g>
<rect x="707" y="800" width="1" height="3" fill="#000"/>
<g transform="translate(706,812) scale(0.925,1)"><text class="t" fill="#000">3 May 2019</text></g>
<rect x="771" y="800" width="1" height="3" fill="#000"/>
<g transform="translate(770,812) scale(0.925,1)"><text class="t" fill="#000">22 May 2019</text></g>
<rect x="835" y="800" width="1" height="3" fill="#000"/>
<g transform="translate(834,812) scale(0.925,1)"><text class="t" fill="#000">10 Jun 2019</text></g>
<rect x="899" y="800" width="1" height="3" fill="#000"/>
<g transform="translate(898,812) scale(0.925,1)"><text class="t" fill="#000">28 Jun 2019</text></g>
<rect x="963" y="800" width="1" height="3" fill="#000"/>
<g transform="translate(962,812) scale(0.925,1)"><text class="t" fill="#000">17 Jul 2019</text></g>
<rect x="1027" y="800" width="1" height="3" fill="#000"/>
<g transform="translate(1026,812) scale(0.925,1)"><text class="t" fill="#000">5 Aug 2019</text></g>
<rect x="1091" y="800" width="1" height="3" fill="#000"/>
<g transform="translate(1090,812) scale(0.925,1)"><text class="t" fill="#000">23 Aug 2019</text></g>
<path d="M6 34h7l-3.5 -4z" fill="#000"/>
<g transform="translate(17.7,35) scale(1.0,1)"><text class="t" fill="#000">USDCAD-,Daily</text></g>
<g transform="translate(93,35) scale(0.922,1)"><text class="t" fill="#000">1.33330 1.33414 1.33303 1.33355</text></g>
</svg>
<div id="top"><div class="sel"></div><div class="sep" style="left:28px"></div><div class="sep" style="left:111px;height:18px"></div>
<span style="left:5px">H4</span><span style="left:34px">D1</span><span style="left:62px">W1</span><span style="left:88px">MN</span>
<div class="l1"></div><div class="l2"></div><div class="l3"></div></div>
<div id="tp">
 <div class="rb big" style="left:2px;top:27px;width:109px;height:40px;">
   <span style="left:19px;top:19.5px;font-size:12px;font-weight:bold;line-height:14px">1.33</span>
   <svg style="position:absolute;left:0;top:0" width="107" height="38"><defs><linearGradient id="g1" gradientUnits="userSpaceOnUse" x1="0" y1="0" x2="0" y2="38"><stop offset="0" stop-color="#e03232"/><stop offset="1" stop-color="#ae0000"/></linearGradient></defs>
   <text x="46" y="30.2" fill="#fff" stroke="url(#g1)" stroke-width="0.85" style="font-family:'Liberation Sans',sans-serif;font-size:35px;letter-spacing:-2.8px">35</text></svg>
   <span style="left:86px;top:3px;font-size:12px;font-weight:bold;line-height:14px">5</span>
 </div>
 <div class="rb big" style="left:113px;top:27px;width:108px;height:40px;">
   <span style="left:19px;top:19.5px;font-size:12px;font-weight:bold;line-height:14px">1.33</span>
   <svg style="position:absolute;left:0;top:0" width="106" height="38"><defs><linearGradient id="g2" gradientUnits="userSpaceOnUse" x1="0" y1="0" x2="0" y2="38"><stop offset="0" stop-color="#e03232"/><stop offset="1" stop-color="#ae0000"/></linearGradient></defs>
   <text x="46" y="30.2" fill="#fff" stroke="url(#g2)" stroke-width="0.85" style="font-family:'Liberation Sans',sans-serif;font-size:35px;letter-spacing:-2.8px">37</text></svg>
   <span style="left:86px;top:3px;font-size:12px;font-weight:bold;line-height:14px">7</span>
 </div>
 <div class="rb btn" style="left:2px;top:3px;width:52px;height:25px;border-bottom:none;letter-spacing:-1px;padding-right:2px">SELL</div>
 <div class="rb btn" style="left:169px;top:3px;width:52px;height:25px;border-bottom:none;letter-spacing:-0.7px;padding-right:1px">BUY</div>
 <div style="position:absolute;left:6px;top:26px;width:45px;height:1px;background:#9c0000"></div>
 <div style="position:absolute;left:6px;top:27px;width:45px;height:1px;background:#f27070"></div>
 <div style="position:absolute;left:173px;top:26px;width:45px;height:1px;background:#9c0000"></div>
 <div style="position:absolute;left:173px;top:27px;width:45px;height:1px;background:#f27070"></div>
 <div style="position:absolute;left:56px;top:3px;width:111px;height:22px;box-sizing:border-box;border:1px solid #a9abb3;background:#fff">
   <div style="position:absolute;left:0px;top:0px;width:20px;height:20px;background:linear-gradient(#efefef,#c6c6c6);border-right:1px solid #a9abb3"></div>
   <div style="position:absolute;right:0px;top:0px;width:20px;height:20px;background:linear-gradient(#efefef,#c6c6c6);border-left:1px solid #a9abb3"></div>
   <svg style="position:absolute;left:0;top:0" width="109" height="20"><path d="M7.5 8.5h6l-3 3z" fill="#4a62b8"/><path d="M96 11.5h6l-3 -3z" fill="#4a62b8"/></svg>
   <span style="position:absolute;right:24px;top:3px;font-size:12px;line-height:14px;color:#000">1.00</span>
 </div>
</div>
<div id="tabs">
 <div style="position:absolute;left:0;top:0;width:100%;height:2px;background:#fff"></div>
 <div style="position:absolute;left:0;top:1px;width:100%;height:1px;background:#e3e3e3"></div>
 <div style="position:absolute;left:0;top:2px;width:100%;height:1px;background:#000"></div>
 <div style="position:absolute;left:0;top:23px;width:100%;height:3px;background:#fcfcfc"></div>
 <div style="position:absolute;left:0;top:26px;width:100%;height:1px;background:#9a9a9a"></div>
 <div style="position:absolute;left:0;top:27px;width:100%;height:2px;background:#fbfbfb"></div>
 <div style="position:absolute;left:10px;top:27px;width:1px;height:2px;background:#dcdcdc"></div><div style="position:absolute;left:140px;top:27px;width:1px;height:2px;background:#dcdcdc"></div><div style="position:absolute;left:241px;top:27px;width:1px;height:2px;background:#dcdcdc"></div><div style="position:absolute;left:515px;top:27px;width:1px;height:2px;background:#dcdcdc"></div><div style="position:absolute;left:661px;top:27px;width:1px;height:2px;background:#dcdcdc"></div><div style="position:absolute;left:1096px;top:27px;width:1px;height:2px;background:#dcdcdc"></div><div style="position:absolute;left:1241px;top:27px;width:1px;height:2px;background:#dcdcdc"></div>
 <div style="position:absolute;left:328px;top:2px;width:108px;height:19px;box-sizing:border-box;background:#fff;border:1px solid #000;border-top:none;box-shadow:1px 1px 0 #8c8c8c"></div>
 <span style="left:14.5px;letter-spacing:0.2px">EURUSD-,Daily</span><i style="left:112px"></i>
 <span style="left:122px;letter-spacing:0.25px">AUDUSD-,Daily</span><i style="left:220px"></i>
 <span style="left:232px;letter-spacing:0.06px">USDCHF-,Daily</span>
 <span style="left:338.7px;color:#000;letter-spacing:0.19px">USDCAD-,Daily</span>
 <span style="left:447.5px;letter-spacing:0.36px">USDCNH-,Daily</span><i style="left:548px"></i>
 <span style="left:558.5px;letter-spacing:0.18px">EURCHF-,Weekly</span><i style="left:668px"></i>
 <span style="left:679.5px;letter-spacing:0.4px">XAUUSD-,Weekly</span><i style="left:792px"></i>
 <span style="left:802.7px;letter-spacing:0.08px">GBPUSD-,H1</span><i style="left:888px"></i>
 <span style="left:898.5px;letter-spacing:0.53px">UKOil-,H1</span><i style="left:968px"></i>
 <span style="left:977.3px;letter-spacing:0.48px">USDX-,Weekly</span><i style="left:1072px"></i>
 <svg style="position:absolute;left:1425px;top:6px" width="36" height="12"><path d="M12 2v6l-3 -3z M28 2v6l3 -3z" fill="#8a8a8a"/></svg>
</div>
</body></html>
